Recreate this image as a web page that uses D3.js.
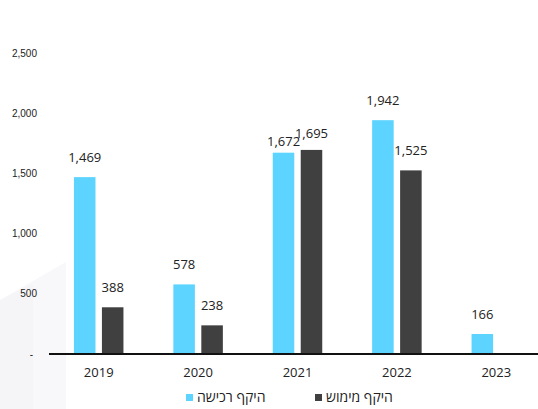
<!DOCTYPE html>
<html>
<head>
<meta charset="utf-8">
<script src="https://cdn.jsdelivr.net/npm/d3@7"></script>
<style>
  body { margin: 0; background: #fff; }
  svg { display: block; }
</style>
</head>
<body>
<svg id="chart" width="538" height="409"></svg>
<script>
const years = ["2019", "2020", "2021", "2022", "2023"];
const purchase = [1469, 578, 1672, 1942, 166];   // היקף רכישה
const exercise = [388, 238, 1695, 1525, null];   // היקף מימוש
const yTicks = [0, 500, 1000, 1500, 2000, 2500];
const seriesNames = ["היקף רכישה", "היקף מימוש"];
const seriesColors = ["#5cd4ff", "#404040"];

const width = 538;
const height = 409;

const svg = d3.select("#chart");

// faint backdrop shape in the lower left corner
svg.append("polygon")
    .attr("points", "0,300 66,262 66,409 0,409")
    .attr("fill", "#f8f8fa");
svg.append("polygon")
    .attr("points", "0,300 33,284 33,409 0,409")
    .attr("fill", "#f5f5f7");

const x0 = d3.scaleBand()
    .domain(years)
    .range([49, 546]);

const x1 = d3.scaleBand()
    .domain([0, 1])
    .range([-24.75, 24.75])
    .paddingInner(0.23);

const y = d3.scaleLinear()
    .domain([0, 2500])
    .range([354, 53]);

const fmt = d3.format(",");

// y axis labels
svg.append("g")
    .style("font", "10px 'Liberation Sans', Arial, sans-serif")
    .attr("fill", "#222")
    .selectAll("text")
    .data(yTicks)
    .join("text")
    .attr("x", d => d === 0 ? 33 : 37)
    .attr("y", d => y(d))
    .attr("dy", "0.35em")
    .attr("text-anchor", "end")
    .text(d => d === 0 ? "-" : fmt(d));

const rows = years.map((yr, i) => ({ year: yr, values: [purchase[i], exercise[i]] }));

// bars
const groups = svg.append("g")
    .selectAll("g")
    .data(rows)
    .join("g")
    .attr("transform", d => `translate(${x0(d.year) + x0.bandwidth() / 2},0)`);

groups.selectAll("rect")
    .data(d => d.values.map((v, k) => ({ k, v })).filter(e => e.v != null))
    .join("rect")
    .attr("x", e => x1(e.k))
    .attr("width", x1.bandwidth())
    .attr("y", e => y(e.v))
    .attr("height", e => y(0) - y(e.v))
    .attr("fill", e => seriesColors[e.k]);

// value labels, nudged when the two labels of a year would collide
groups.each(function(d) {
    const items = d.values.map((v, k) => ({ k, v })).filter(e => e.v != null);
    items.forEach(e => { e.ly = y(e.v) - 15; });
    if (items.length === 2 && Math.abs(items[0].ly - items[1].ly) < 12) {
        const lo = items[0].v < items[1].v ? items[0] : items[1];
        const hi = lo === items[0] ? items[1] : items[0];
        lo.ly += 8;
        hi.ly += 3;
    }
    d3.select(this).selectAll("text")
        .data(items)
        .join("text")
        .attr("x", e => x1(e.k) + x1.bandwidth() / 2)
        .attr("y", e => e.ly)
        .attr("text-anchor", "middle")
        .style("font", "13px 'Open Sans', 'Noto Sans', sans-serif")
        .attr("fill", "#222")
        .text(e => fmt(e.v));
});

// x axis line
svg.append("line")
    .attr("x1", 49)
    .attr("x2", 538)
    .attr("y1", y(0))
    .attr("y2", y(0))
    .attr("stroke", "#111")
    .attr("stroke-width", 1.8);

// x axis labels
svg.append("g")
    .selectAll("text")
    .data(years)
    .join("text")
    .attr("x", d => x0(d) + x0.bandwidth() / 2)
    .attr("y", 377)
    .attr("text-anchor", "middle")
    .style("font", "13px 'Open Sans', 'Noto Sans', sans-serif")
    .attr("fill", "#222")
    .text(d => d);

// legend
const legendX = [186, 315];
const legend = svg.append("g")
    .selectAll("g")
    .data(seriesNames)
    .join("g")
    .attr("transform", (d, i) => `translate(${legendX[i]},394)`);

legend.append("rect")
    .attr("width", 7)
    .attr("height", 7)
    .attr("fill", (d, i) => seriesColors[i]);

legend.append("text")
    .attr("x", 11)
    .attr("y", 8)
    .style("font", "14px 'Open Sans', 'DejaVu Sans', sans-serif")
    .attr("fill", "#222")
    .text(d => d);
</script>
</body>
</html>
